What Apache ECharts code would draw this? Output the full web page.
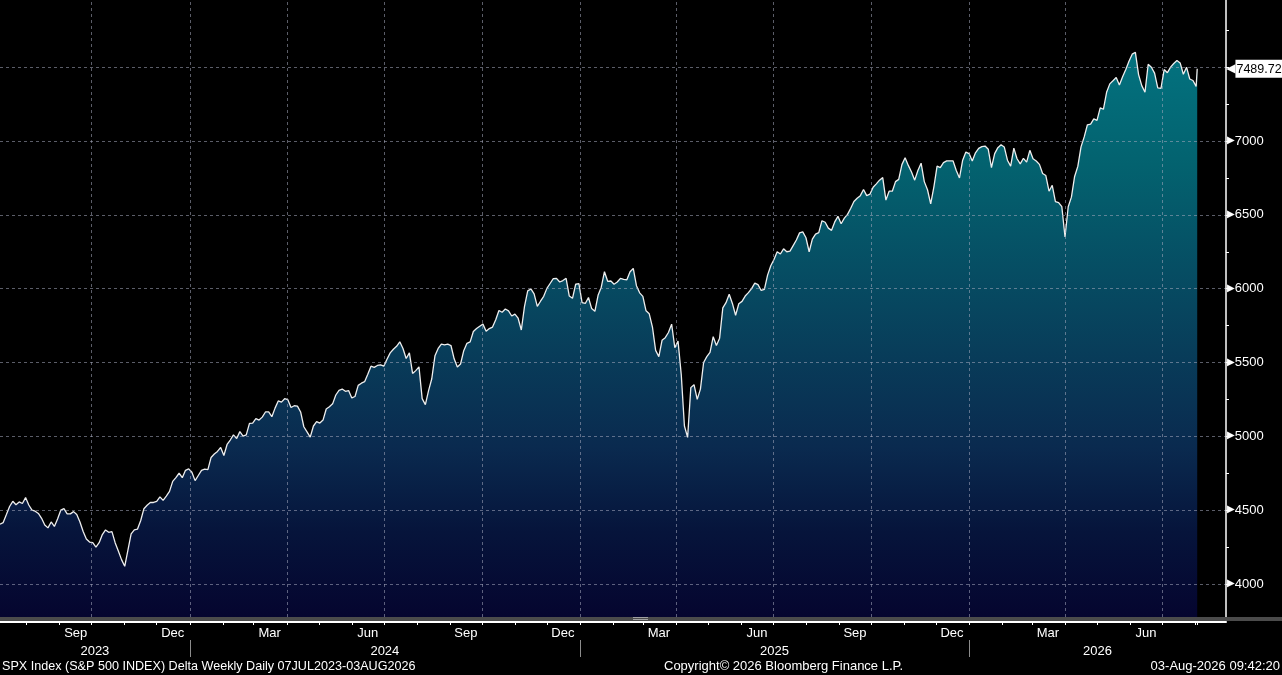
<!DOCTYPE html>
<html>
<head>
<meta charset="utf-8">
<title>SPX Index</title>
<script src="https://cdn.jsdelivr.net/npm/echarts@6.0.0/dist/echarts.min.js"></script>
<style>
  html, body { margin: 0; padding: 0; background: #000; }
  #chart { width: 1282px; height: 675px; }
</style>
</head>
<body>
<div id="chart"></div>
<script>
// SPX closes, one reading every 3 calendar days from 07JUL2023
var startDate = '2023-07-07';
var stepDays = 3;
var spxCloses = [
  4405, 4416, 4470, 4525, 4560, 4537, 4556, 4545, 4585, 4535,
  4500, 4493, 4478, 4445, 4400, 4380, 4420, 4390, 4440, 4500,
  4510, 4475, 4475, 4490, 4470, 4420, 4355, 4305, 4284, 4280,
  4250, 4280, 4335, 4366, 4350, 4355, 4280, 4223, 4165, 4120,
  4230, 4340, 4367, 4372, 4430, 4510, 4533, 4552, 4552, 4559,
  4590, 4566, 4595, 4627, 4695, 4720, 4750, 4720, 4770, 4780,
  4757, 4700, 4735, 4770, 4778, 4775, 4857, 4880, 4898, 4925,
  4870, 4945, 4975, 5010, 4985, 5032, 5002, 5010, 5088, 5090,
  5120, 5110, 5130, 5165, 5165, 5133, 5191, 5240, 5232, 5255,
  5248, 5195, 5207, 5205, 5165, 5065, 5030, 4995, 5070, 5100,
  5090, 5110, 5185, 5200, 5220, 5280, 5312, 5320, 5305, 5310,
  5260, 5270, 5345, 5360, 5370, 5420, 5475, 5467, 5480, 5484,
  5475, 5522, 5565, 5590, 5610, 5640, 5595, 5527, 5565, 5426,
  5445, 5470, 5255, 5215, 5310, 5390, 5545, 5595, 5625, 5620,
  5624, 5615, 5525, 5470, 5490, 5580, 5630, 5640, 5710, 5730,
  5746, 5760, 5712, 5730, 5740, 5790, 5852, 5840, 5862, 5850,
  5815, 5828, 5800, 5720, 5880, 5985, 5998, 5965, 5880, 5915,
  5948, 6002, 6035, 6068, 6070, 6045, 6055, 6070, 5950, 5935,
  6030, 6034, 5905, 5900, 5940, 5865, 5847, 5955, 6010, 6115,
  6050, 6052, 6030, 6045, 6070, 6063, 6060, 6115, 6137, 6020,
  5972, 5948, 5850, 5830, 5740, 5582, 5540, 5650, 5668, 5703,
  5760, 5600, 5645, 5420, 5070, 4993, 5330, 5350, 5250, 5320,
  5500, 5540, 5568, 5675, 5615, 5665, 5870, 5905, 5962, 5900,
  5820, 5898, 5914, 5950, 5973, 6000, 6038, 6027, 5988, 5995,
  6092, 6155, 6198, 6250, 6235, 6270, 6250, 6254, 6292, 6330,
  6378, 6385, 6345, 6250, 6335, 6370, 6380, 6460, 6450, 6410,
  6395, 6452, 6490, 6440, 6478, 6503, 6545, 6590, 6612, 6630,
  6672, 6630, 6640, 6687, 6710, 6735, 6752, 6600, 6660, 6660,
  6725, 6740, 6840, 6887, 6835, 6790, 6735, 6800, 6850, 6725,
  6670, 6575, 6690, 6830, 6820, 6854, 6865, 6865, 6865, 6800,
  6750, 6870, 6925, 6915, 6865, 6920, 6950, 6962, 6966, 6944,
  6820, 6915, 6955, 6975, 6960, 6870, 6830, 6952, 6880, 6845,
  6883, 6857, 6937, 6880, 6865, 6842, 6780, 6766, 6660, 6700,
  6590, 6583, 6555, 6350, 6555, 6620, 6760, 6828, 6960, 7028,
  7110, 7115, 7150, 7140, 7225, 7215, 7330, 7387, 7408, 7430,
  7380, 7435, 7485, 7540, 7588, 7600, 7450, 7375, 7330, 7520,
  7500, 7460, 7360, 7356, 7484, 7462, 7500, 7525, 7545, 7529,
  7452, 7500, 7420, 7410, 7370
];
var lastDate = '2026-08-03';
var lastClose = 7489.72;

// axis labels
var yLabelValues = [4000, 4500, 5000, 5500, 6000, 6500, 7000];
var yGridValues = [4000, 4500, 5000, 5500, 6000, 6500, 7000, 7500];
var yMinorTicks = [4000, 4250, 4500, 4750, 5000, 5250, 5500, 5750, 6000,
                   6250, 6500, 6750, 7000, 7250, 7500, 7750];
var monthNames = ['Jan','Feb','Mar','Apr','May','Jun','Jul','Aug','Sep','Oct','Nov','Dec'];
var labelledMonths = ['Sep', 'Dec', 'Mar', 'Jun'];

var footerLeft = 'SPX Index (S&P 500 INDEX) Delta Weekly Daily 07JUL2023-03AUG2026';
var footerMid = 'Copyright\u00A9 2026 Bloomberg Finance L.P.';
var footerRight = '03-Aug-2026 09:42:20';

var DAY = 86400000;
function ts(s) {
  var p = s.split('-');
  return Date.UTC(+p[0], +p[1] - 1, +p[2]);
}

var t0 = ts(startDate);
var tEnd = ts(lastDate);
var tMax = t0 + 1150 * DAY;   // right edge of the plot

var seriesData = spxCloses.map(function (v, i) {
  return [t0 + i * stepDays * DAY, v];
});
seriesData.push([tEnd, lastClose]);

// month starts, quarter starts, mid-months, year starts
var monthStarts = [], quarterStarts = [], monthMids = [], yearStarts = [];
(function () {
  var d = new Date(t0);
  var y = d.getUTCFullYear(), m = d.getUTCMonth() + 1;
  while (true) {
    var t = Date.UTC(y, m, 1);
    if (t > tMax) break;
    if (t <= tEnd) monthStarts.push(t);
    if (m % 3 === 0) quarterStarts.push(t);
    if (m === 0) yearStarts.push(t);
    m++;
    if (m > 11) { m = 0; y++; }
  }
  y = d.getUTCFullYear(); m = d.getUTCMonth();
  while (true) {
    var mid = Date.UTC(y, m, 16);
    if (mid > tMax) break;
    if (labelledMonths.indexOf(monthNames[m]) >= 0 && mid > t0) monthMids.push(mid);
    m++;
    if (m > 11) { m = 0; y++; }
  }
})();
monthStarts.push(tEnd);

var yearBounds = [t0].concat(yearStarts).concat([tMax]);
var yearMids = [];
for (var k = 0; k < yearBounds.length - 1; k++) {
  yearMids.push(Math.round((yearBounds[k] + yearBounds[k + 1]) / 2));
}

var gridColor = 'rgba(165,170,190,0.55)';
var font = 'Liberation Sans, Arial, sans-serif';
var footStyle = { color: '#fff', fontSize: 13, fontWeight: 'normal', fontFamily: font };

var chart = echarts.init(document.getElementById('chart'), null, { renderer: 'canvas' });

var option = {
  backgroundColor: '#000',
  animation: false,
  textStyle: { fontFamily: font },
  title: [
    { text: footerLeft, left: 2, top: 660, padding: 0,
      textStyle: { color: '#fff', fontSize: 12.6, fontWeight: 'normal', fontFamily: font } },
    { text: footerMid, left: 664, top: 660, padding: 0, textStyle: footStyle },
    { text: footerRight, right: 2, top: 660, padding: 0, textStyle: footStyle }
  ],
  grid: [
    { left: 0, right: 56, top: 0, bottom: 58, containLabel: false },
    { left: 0, right: 56, top: 621, height: 1, containLabel: false }
  ],
  xAxis: [
    { // month labels (quarter grid lines come from the markLine below)
      type: 'value', gridIndex: 0, min: t0, max: tMax,
      axisLine: { show: false },
      axisTick: { show: false },
      splitLine: { show: false },
      axisLabel: {
        customValues: monthMids, margin: 10, color: '#fff', fontSize: 13, fontFamily: font,
        formatter: function (v) { return monthNames[new Date(v).getUTCMonth()]; }
      }
    },
    { // white axis line with month ticks
      type: 'value', gridIndex: 1, min: t0, max: tMax, position: 'bottom', offset: 0,
      axisLine: { show: true, lineStyle: { color: '#fff', width: 2 } },
      axisTick: { show: true, customValues: monthStarts, length: 3, lineStyle: { color: '#fff', width: 1 } },
      splitLine: { show: false },
      axisLabel: { show: false }
    },
    { // year separators and labels
      type: 'value', gridIndex: 1, min: t0, max: tMax, position: 'bottom', offset: 18,
      axisLine: { show: false },
      axisTick: { show: true, customValues: yearStarts, length: 17, lineStyle: { color: '#8c8c8c', width: 1 } },
      splitLine: { show: false },
      axisLabel: {
        customValues: yearMids, margin: 5, color: '#fff', fontSize: 13, fontFamily: font,
        formatter: function (v) { return String(new Date(v).getUTCFullYear()); }
      }
    }
  ],
  yAxis: [
    {
      type: 'value', gridIndex: 0, position: 'right', min: 3776.5, max: 7955, z: 5,
      axisLine: { show: true, lineStyle: { color: '#fff', width: 1.5 } },
      axisTick: { show: false, customValues: yGridValues },
      splitLine: { show: true, lineStyle: { color: gridColor, type: [3, 3], width: 1 } },
      axisLabel: {
        customValues: yLabelValues, margin: 1, color: '#fff', fontSize: 13, fontFamily: font,
        formatter: function (v) { return '{t|\u25B6}' + v; },
        rich: { t: { fontSize: 10, color: '#fff', fontFamily: 'DejaVu Sans', padding: [0, 0, 1, 0] } }
      }
    },
    {
      type: 'value', gridIndex: 0, position: 'right', min: 3776.5, max: 7955,
      axisLine: { show: false },
      axisTick: { show: true, customValues: yMinorTicks, length: 3, lineStyle: { color: '#fff', width: 1 } },
      splitLine: { show: false },
      axisLabel: { show: false }
    },
    {
      type: 'value', gridIndex: 1, min: 0, max: 1, show: false
    }
  ],
  series: [{
    type: 'line',
    data: seriesData,
    xAxisIndex: 0,
    yAxisIndex: 0,
    showSymbol: false,
    symbol: 'none',
    smooth: false,
    lineStyle: { color: '#eeeeee', width: 1.3 },
    areaStyle: {
      opacity: 1,
      color: {
        type: 'linear', x: 0, y: 0, x2: 0, y2: 1,
        colorStops: [
          { offset: 0, color: '#03727f' },
          { offset: 0.2, color: '#03626f' },
          { offset: 0.45, color: '#07465f' },
          { offset: 0.7, color: '#0a2a4f' },
          { offset: 0.85, color: '#06143b' },
          { offset: 1, color: '#05052f' }
        ]
      }
    },
    markLine: {
      silent: true,
      symbol: 'none',
      animation: false,
      label: { show: false },
      lineStyle: { color: gridColor, type: [3, 3], width: 1 },
      emphasis: { disabled: true },
      data: quarterStarts.map(function (t) { return { xAxis: t }; })
    },
    endLabel: {
      show: true,
      distance: 29,
      formatter: function (p) { return '{p|\u25C0}{b|' + p.value[1].toFixed(2) + '}'; },
      rich: {
        p: { color: '#fff', fontSize: 12, fontFamily: 'DejaVu Sans', padding: [0, 0, 0, 0] },
        b: { color: '#000', backgroundColor: '#fff', fontSize: 12.5, fontFamily: font, padding: [3, 2, 2, 1] }
      }
    }
  }],
  graphic: [
    { type: 'rect', shape: { x: 0, y: 617, width: 1282, height: 4 }, style: { fill: '#4b4b4b' }, z: 10 },
    { type: 'rect', shape: { x: 633, y: 617, width: 15, height: 1 }, style: { fill: '#a0a0a0' }, z: 11 },
    { type: 'rect', shape: { x: 633, y: 619, width: 15, height: 1 }, style: { fill: '#a0a0a0' }, z: 11 }
  ]
};

chart.setOption(option);
</script>
</body>
</html>
